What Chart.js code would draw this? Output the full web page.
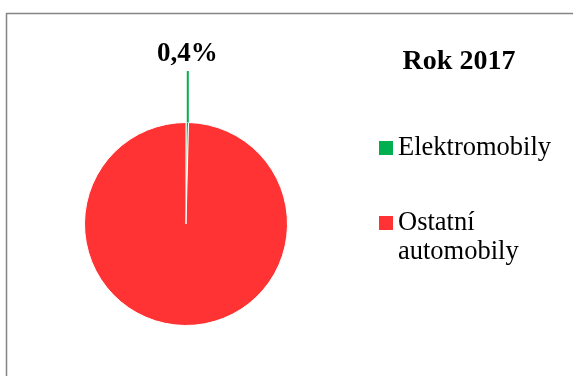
<!DOCTYPE html>
<html>
<head>
<meta charset="utf-8">
<script src="https://cdn.jsdelivr.net/npm/chart.js@4/dist/chart.umd.min.js"></script>
<style>
  html, body { margin: 0; padding: 0; background: #fff; }
  canvas { display: block; }
</style>
</head>
<body>
<canvas id="c" width="573" height="376"></canvas>
<script>
// Podíl elektromobilů v roce 2017
const categories = ['Elektromobily', 'Ostatní automobily'];
const legendLines = [['Elektromobily'], ['Ostatní', 'automobily']];
const shares = [0.4, 99.6];
const sliceColors = ['#00B050', '#FF3333'];
const chartTitle = 'Rok 2017';

const SERIF = '"Liberation Serif", "Times New Roman", serif';

function fmtPct(v) {
  return v.toFixed(1).replace('.', ',') + '%';
}

// frame, title, legend and the callout for the small slice
const decor = {
  id: 'decor',
  beforeDraw(chart) {
    const ctx = chart.ctx;
    ctx.save();
    ctx.fillStyle = '#fff';
    ctx.fillRect(0, 0, chart.width, chart.height);
    ctx.strokeStyle = '#858585';
    ctx.lineWidth = 1.5;
    ctx.strokeRect(6.5, 13.5, chart.width + 40, chart.height + 40);
    ctx.restore();
  },
  afterDraw(chart) {
    const ctx = chart.ctx;
    ctx.save();

    // title
    ctx.fillStyle = '#000';
    ctx.font = 'bold 28px ' + SERIF;
    ctx.textAlign = 'center';
    ctx.textBaseline = 'alphabetic';
    ctx.fillText(chartTitle, 459, 69);

    // legend
    const rows = [155, 230];
    ctx.font = '26.5px ' + SERIF;
    ctx.textAlign = 'left';
    categories.forEach((c, i) => {
      const base = rows[i];
      ctx.fillStyle = sliceColors[i];
      ctx.fillRect(379, base - 14, 14, 14);
      ctx.fillStyle = '#000';
      legendLines[i].forEach((t, j) => ctx.fillText(t, 398, base + j * 29));
    });

    // callout for the first slice
    const arc = chart.getDatasetMeta(0).data[0];
    const mid = (arc.startAngle + arc.endAngle) / 2;
    const ex = arc.x + Math.cos(mid) * arc.outerRadius;
    const ey = arc.y + Math.sin(mid) * arc.outerRadius;
    ctx.strokeStyle = sliceColors[0];
    ctx.lineWidth = 2;
    ctx.beginPath();
    ctx.moveTo(ex + 0.5, ey);
    ctx.lineTo(ex + 0.5, 71);
    ctx.stroke();
    ctx.fillStyle = '#000';
    ctx.font = 'bold 27px ' + SERIF;
    ctx.textAlign = 'center';
    ctx.fillText(fmtPct(shares[0]), ex, 61);

    ctx.restore();
  }
};

new Chart(document.getElementById('c'), {
  type: 'pie',
  data: {
    labels: categories,
    datasets: [{
      data: shares,
      backgroundColor: sliceColors,
      borderColor: '#ffffff',
      borderWidth: 1
    }]
  },
  options: {
    responsive: false,
    devicePixelRatio: 1,
    animation: false,
    layout: { padding: { left: 84, top: 122, right: 285, bottom: 50 } },
    plugins: {
      legend: { display: false },
      title: { display: false },
      tooltip: { enabled: false }
    }
  },
  plugins: [decor]
});
</script>
</body>
</html>
